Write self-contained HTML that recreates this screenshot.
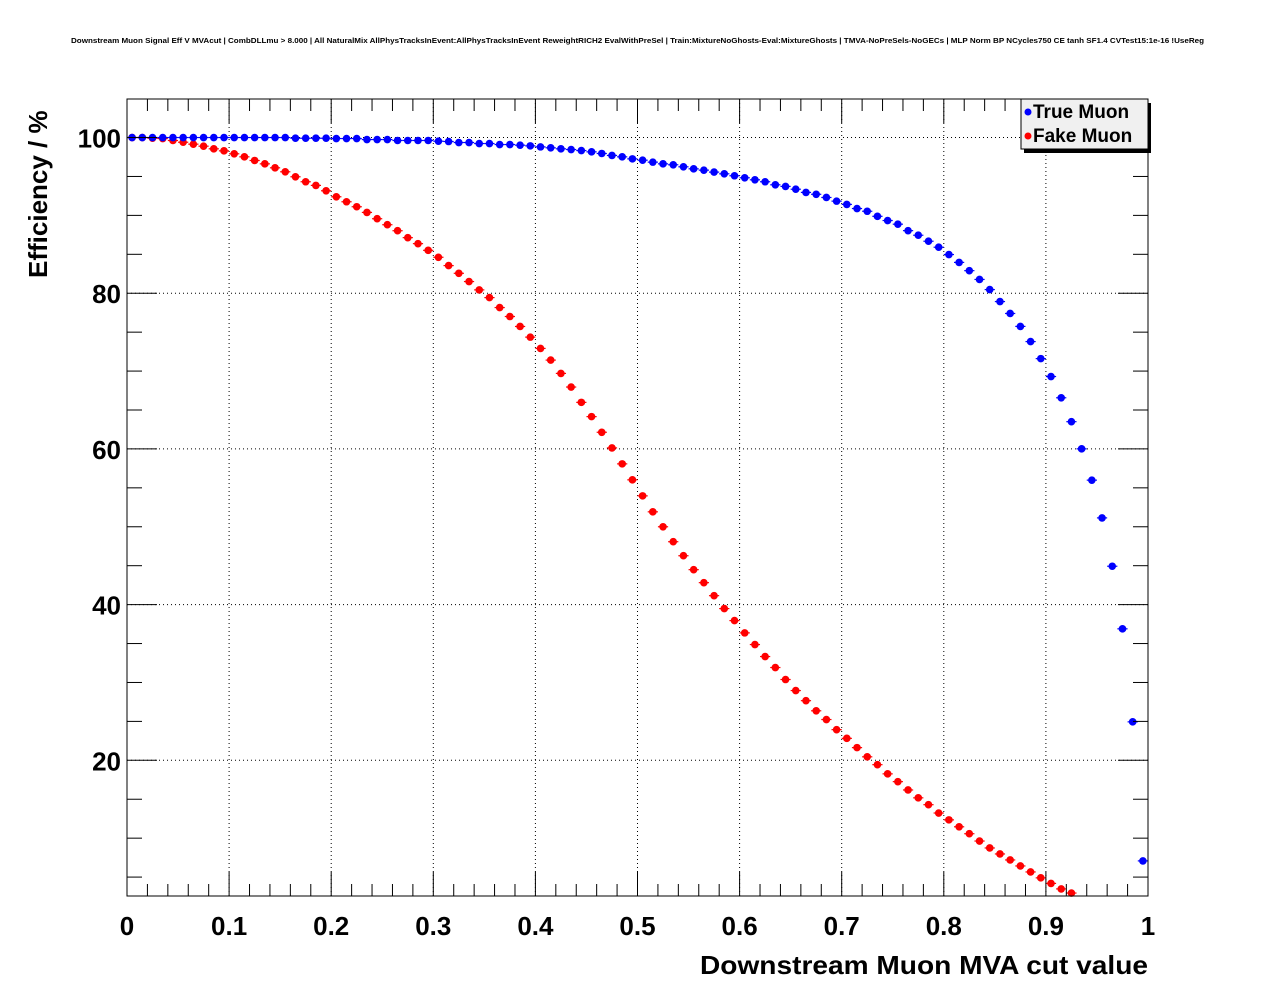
<!DOCTYPE html>
<html><head><meta charset="utf-8"><style>
html,body{margin:0;padding:0;background:#fff;}
svg{display:block;font-family:"Liberation Sans",Arial,sans-serif;}
</style></head><body>
<svg id="chart" width="1276" height="996" viewBox="0 0 1276 996" xmlns="http://www.w3.org/2000/svg">
<rect x="0" y="0" width="1276" height="996" fill="#fff"/>
<text x="71" y="43" font-size="7.6" font-weight="bold" textLength="1133" lengthAdjust="spacingAndGlyphs">Downstream Muon Signal Eff V MVAcut | CombDLLmu &gt; 8.000 | All NaturalMix AllPhysTracksInEvent:AllPhysTracksInEvent ReweightRICH2 EvalWithPreSel | Train:MixtureNoGhosts-Eval:MixtureGhosts | TMVA-NoPreSels-NoGECs | MLP Norm BP NCycles750 CE tanh SF1.4 CVTest15:1e-16 !UseReg</text>
<g id="grid"></g>
<g id="marks"></g>
<rect x="127" y="99" width="1021" height="797" fill="none" stroke="#000" stroke-width="1"/>
<g id="axes"></g>
<text transform="translate(47,278) rotate(-90)" font-size="26" font-weight="bold">Efficiency / %</text>
<text x="700" y="974" font-size="26" font-weight="bold" textLength="448" lengthAdjust="spacingAndGlyphs">Downstream Muon MVA cut value</text>
<g>
<rect x="1024" y="103" width="127" height="50" fill="#000"/>
<rect x="1021" y="99" width="127" height="50" fill="#f0f0f0" stroke="#000" stroke-width="1"/>
<g>
<circle cx="1028" cy="112" r="3.5" fill="#0000ff"/>
<text x="1033" y="118" font-size="19" font-weight="bold">True Muon</text></g>
<g>
<circle cx="1028" cy="136" r="3.5" fill="#ff0000"/>
<text x="1033" y="142" font-size="19" font-weight="bold">Fake Muon</text></g>
</g>
</svg>
<script>
const trueMuon = [100,100,100,100,100,100,100,100,100,100,100,100,100,100,100,100,
99.91,99.91,99.91,99.91,99.87,99.87,99.87,99.74,99.74,99.74,99.62,99.62,99.62,99.62,
99.53,99.49,99.36,99.36,99.23,99.23,99.10,99.10,99.02,98.93,98.80,98.68,98.55,98.46,98.33,98.16,97.95,97.7,
97.52,97.26,97.09,96.84,96.62,96.50,96.24,95.98,95.81,95.56,95.34,95.09,94.83,94.57,94.32,93.93,
93.72,93.36,92.95,92.71,92.30,91.83,91.41,90.88,90.53,89.88,89.34,88.87,88.04,87.45,86.68,85.91,
84.97,83.96,82.90,81.77,80.47,78.93,77.40,75.74,73.79,71.60,69.30,66.57,63.50,60.01,55.99,51.14,
44.93,36.89,24.94,7.08];
const fakeMuon = [100,100,99.91,99.87,99.62,99.40,99.15,98.89,98.55,98.29,
97.91,97.52,97.05,96.62,96.11,95.60,94.96,94.32,93.85,93.16,
92.39,91.75,91.11,90.38,89.57,88.80,88.03,87.14,86.37,85.51,
84.62,83.55,82.56,81.50,80.43,79.44,78.16,77.01,75.73,74.36,
72.91,71.41,69.70,67.95,65.98,64.15,62.14,60.13,
58.08,56.03,53.97,51.92,50.00,48.08,46.28,44.49,42.82,41.15,39.49,37.95,36.37,34.87,33.33,31.92,
30.38,28.96,27.66,26.36,25.24,23.94,22.82,21.63,20.45,19.44,18.26,17.26,16.19,15.18,14.30,13.23,
12.35,11.46,10.57,9.63,8.74,7.97,7.20,6.43,5.66,4.90,4.19,3.48,2.95,2.4,1.9,1.4,1.0,0.6,0.3,0.1];
const xTickLabels = ["0","0.1","0.2","0.3","0.4","0.5","0.6","0.7","0.8","0.9","1"];
const yTickLabels = ["20","40","60","80","100"];
const binWidth = 0.01;

const NS="http://www.w3.org/2000/svg";
const L=127,R=1148,T=99,B=896, YMIN=2.57, YMAX=104.95;
const sx=v=>L+(v-0)/(1-0)*(R-L);
const sy=v=>B-(v-YMIN)/(YMAX-YMIN)*(B-T);
function mk(tag,attrs,parent){const e=document.createElementNS(NS,tag);for(const k in attrs)e.setAttribute(k,attrs[k]);parent.appendChild(e);return e;}
const grid=document.getElementById('grid'),axes=document.getElementById('axes'),marks=document.getElementById('marks');

xTickLabels.forEach(t=>{const v=parseFloat(t);if(v<=0||v>=1)return;
 const l=mk('line',{x1:sx(v),x2:sx(v),y1:T,y2:B,stroke:'#000','stroke-width':1,'stroke-dasharray':'1,3'},grid);
 
 });
yTickLabels.forEach(t=>{const v=parseFloat(t);
 const l=mk('line',{x1:L,x2:R,y1:sy(v),y2:sy(v),stroke:'#000','stroke-width':1,'stroke-dasharray':'1,3'},grid);
 
 });

for(let i=0;i<=50;i++){const v=i*0.02;const major=(i%5===0);const len=major?24:12;const x=sx(v);
 const a=mk('line',{x1:x,x2:x,y1:B,y2:B-len,stroke:'#000','stroke-width':1},axes);
 
 
 const b=mk('line',{x1:x,x2:x,y1:T,y2:T+len,stroke:'#000','stroke-width':1},axes);
 
 }
xTickLabels.forEach(t=>{const v=parseFloat(t);
 const e=mk('text',{x:sx(v),y:935,'text-anchor':'middle','font-size':26,'font-weight':'bold'},axes);e.textContent=t;
 
 });
for(let v=5;v<=105;v+=5){if(v<YMIN||v>YMAX)continue;const major=(v%20===0);const len=major?30:15;const y=sy(v);
 const a=mk('line',{x1:L,x2:L+len,y1:y,y2:y,stroke:'#000','stroke-width':1},axes);
 
 
 const b=mk('line',{x1:R,x2:R-len,y1:y,y2:y,stroke:'#000','stroke-width':1},axes);
 
 }
yTickLabels.forEach(t=>{const v=parseFloat(t);
 const e=mk('text',{x:121,y:sy(v)+10,'text-anchor':'end','font-size':26,'font-weight':'bold'},axes);e.textContent=t;
 
 });

function drawSeries(vals,color,name){
 const g=mk('g',{},marks);
 
 
 vals.forEach((v,i)=>{if(v<YMIN||v>YMAX)return;const c=(i+0.5)*binWidth;const x=sx(c),y=sy(v);
  const ln=mk('line',{x1:sx(c-binWidth/2),x2:sx(c+binWidth/2),y1:y,y2:y,stroke:color,'stroke-width':1.2},g);
  
  
  const p=mk('circle',{cx:x,cy:y,r:3.8,fill:color},g);
  
  });
}
drawSeries(fakeMuon,'#ff0000','fake-muon-series');
drawSeries(trueMuon,'#0000ff','true-muon-series');
</script>
</body></html>
